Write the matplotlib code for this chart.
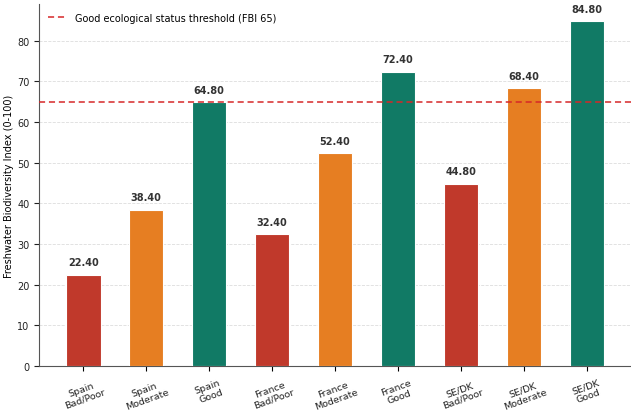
import matplotlib
matplotlib.use("Agg")
import matplotlib.pyplot as plt

categories = ["Spain\nBad/Poor", "Spain\nModerate", "Spain\nGood",
              "France\nBad/Poor", "France\nModerate", "France\nGood",
              "SE/DK\nBad/Poor", "SE/DK\nModerate", "SE/DK\nGood"]
values = [22.4, 38.4, 64.8, 32.4, 52.4, 72.4, 44.8, 68.4, 84.8]
status = ["bad", "moderate", "good"] * 3
threshold = 65

colors = {"bad": "#c0392b", "moderate": "#e67e22", "good": "#117a65"}

fig, ax = plt.subplots(figsize=(6.31, 4.14), dpi=100)

x = range(len(categories))
ax.bar(x, values, width=0.55, color=[colors[s] for s in status],
       edgecolor="white", linewidth=0.8, zorder=3)

ax.axhline(threshold, color="#d62728", linestyle=(0, (4, 2.5)), linewidth=1.1,
           label="Good ecological status threshold (FBI 65)", zorder=4)

for xi, v in zip(x, values):
    ax.text(xi, v + 1.8, f"{v:.2f}", ha="center", va="bottom",
            fontsize=7, fontweight="bold", color="#333333")

ax.set_xticks(list(x))
ax.set_xticklabels(categories, rotation=20, fontsize=6.8, color="#222222",
                   linespacing=1.1)
ax.tick_params(axis="x", pad=5)
ax.tick_params(axis="y", labelsize=7, colors="#222222")
ax.set_ylabel("Freshwater Biodiversity Index (0-100)", fontsize=7, labelpad=2)
ax.set_ylim(0, max(values) * 1.05)
ax.set_xlim(-0.7, len(categories) - 0.3)

ax.grid(axis="y", linestyle="--", color="#dddddd", linewidth=0.6, zorder=0)
ax.spines["top"].set_visible(False)
ax.spines["right"].set_visible(False)
ax.spines["left"].set_color("#555555")
ax.spines["bottom"].set_color("#555555")

ax.legend(loc="upper left", frameon=False, fontsize=7)

fig.subplots_adjust(left=0.062, right=1.0, bottom=0.114, top=0.988)
fig.savefig("out.png", dpi=100)
